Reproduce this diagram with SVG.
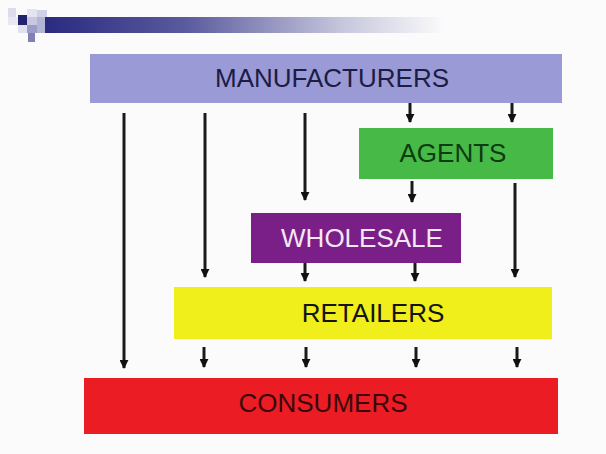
<svg xmlns="http://www.w3.org/2000/svg" width="606" height="454" viewBox="0 0 606 454">
<defs>
<linearGradient id="bar" x1="0" y1="0" x2="1" y2="0">
<stop offset="0" stop-color="#2a2a80"/>
<stop offset="0.35" stop-color="#5a5a9e"/>
<stop offset="0.75" stop-color="#c8c8de"/>
<stop offset="1" stop-color="#fbfbfb"/>
</linearGradient>
<marker id="ah" viewBox="0 0 10 10" refX="9" refY="5" markerWidth="3" markerHeight="3" orient="auto" markerUnits="strokeWidth">
<path d="M0,0 L10,5 L0,10 z" fill="#111"/>
</marker>
</defs>
<style>
.lbl{font-family:"Liberation Sans",Arial,sans-serif;font-size:26px;text-anchor:middle}
.con line{stroke:#1a1a1a;stroke-width:3;marker-end:url(#ah)}
</style>
<rect width="606" height="454" fill="#fbfbfb"/>
<g id="header">
<rect x="45" y="17" width="400" height="16" fill="url(#bar)"/>
<rect x="8" y="8" width="8" height="9" fill="#dcdcec"/>
<rect x="27" y="9" width="10" height="8" fill="#e4e4f0"/>
<rect x="37" y="10" width="10" height="7" fill="#d0d0e6"/>
<rect x="8" y="17" width="10" height="8" fill="#e8e8f2"/>
<rect x="18" y="15" width="9" height="10" fill="#22226e"/>
<rect x="27" y="17" width="10" height="8" fill="#c8c8e0"/>
<rect x="37" y="17" width="8" height="16" fill="#b4b4d4"/>
<rect x="27" y="25" width="10" height="8" fill="#9c9cc8"/>
<rect x="28" y="33" width="7" height="9" fill="#8080b6"/>
<rect x="18" y="25" width="9" height="8" fill="#e0e0ee"/>
</g>
<g id="manufacturers">
<rect x="90" y="54" width="472" height="49" fill="#9a9ad6"/>
<text class="lbl" x="332" y="87" fill="#1c1c44">MANUFACTURERS</text>
</g>
<g id="agents">
<rect x="359" y="128" width="194" height="51" fill="#46b946"/>
<text class="lbl" x="453" y="162" fill="#0c3c10">AGENTS</text>
</g>
<g id="wholesale">
<rect x="251" y="213" width="210" height="50" fill="#7a1e88"/>
<text class="lbl" x="362" y="247" fill="#f4e8f4">WHOLESALE</text>
</g>
<g id="retailers">
<rect x="174" y="287" width="378" height="52" fill="#f0ef1c"/>
<text class="lbl" x="373" y="322" fill="#141414">RETAILERS</text>
</g>
<g id="consumers">
<rect x="84" y="378" width="474" height="56" fill="#ec1c24"/>
<text class="lbl" x="323" y="412" fill="#3a0808">CONSUMERS</text>
</g>
<g id="connectors" class="con">
<line x1="124" y1="113" x2="124" y2="368"/>
<line x1="205" y1="113" x2="205" y2="277"/>
<line x1="305" y1="113" x2="305" y2="200"/>
<line x1="410" y1="103" x2="410" y2="122"/>
<line x1="512" y1="103" x2="512" y2="122"/>
<line x1="412" y1="181" x2="412" y2="202"/>
<line x1="515" y1="183" x2="515" y2="277"/>
<line x1="305" y1="263" x2="305" y2="281"/>
<line x1="415" y1="263" x2="415" y2="281"/>
<line x1="204" y1="347" x2="204" y2="367"/>
<line x1="306" y1="347" x2="306" y2="367"/>
<line x1="416" y1="347" x2="416" y2="367"/>
<line x1="517" y1="347" x2="517" y2="367"/>
</g>
</svg>
